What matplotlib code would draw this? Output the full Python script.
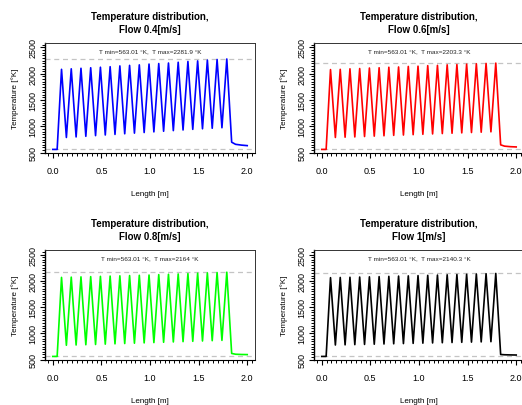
"""Temperature along the exchanger length for four flow rates, 2x2 panel."""

import matplotlib

matplotlib.use("Agg")
import matplotlib.pyplot as plt
from matplotlib.ticker import MultipleLocator

plt.rcParams["font.family"] = ["Liberation Sans", "DejaVu Sans"]

# positions along the length [m]: inlet plateau, alternating peaks/troughs, outlet tail
x_inlet = [0.0, 0.045]
x_peaks = [0.09, 0.19, 0.29, 0.39, 0.49, 0.59, 0.69, 0.79, 0.89,
           0.99, 1.09, 1.19, 1.29, 1.39, 1.49, 1.59, 1.69, 1.79]
x_mins = [0.14, 0.24, 0.34, 0.44, 0.54, 0.64, 0.74, 0.84, 0.94,
          1.04, 1.14, 1.24, 1.34, 1.44, 1.54, 1.64, 1.74]
x_tail = [1.84, 1.88, 1.94, 2.0]

flows = ["0.4", "0.6", "0.8", "1"]
colors = ["#0000ff", "#ff0000", "#00ff00", "#000000"]
t_min = [563.01, 563.01, 563.01, 563.01]
t_max = [2281.9, 2203.3, 2164, 2140.3]

peaks = [
    [2085, 2095, 2105, 2115, 2125, 2135, 2150, 2160, 2170,
     2185, 2195, 2205, 2220, 2235, 2245, 2260, 2272, 2281.9],
    [2080, 2085, 2095, 2100, 2110, 2115, 2125, 2130, 2140,
     2145, 2155, 2160, 2170, 2175, 2183, 2190, 2197, 2203.3],
    [2065, 2070, 2075, 2080, 2085, 2090, 2095, 2100, 2105,
     2110, 2118, 2124, 2130, 2137, 2144, 2150, 2157, 2164],
    [2060, 2064, 2068, 2072, 2076, 2080, 2085, 2090, 2094,
     2099, 2104, 2109, 2114, 2119, 2124, 2129, 2135, 2140.3],
]
troughs = [
    [790, 800, 812, 825, 837, 848, 860, 872, 884,
     896, 908, 920, 932, 944, 955, 965, 975],
    [790, 795, 800, 808, 815, 822, 830, 836, 843,
     850, 857, 864, 870, 877, 884, 890, 897],
    [775, 780, 785, 790, 796, 802, 808, 814, 820,
     826, 832, 838, 844, 850, 856, 862, 868],
    [780, 783, 787, 791, 795, 799, 803, 807, 811,
     815, 819, 823, 827, 831, 835, 839, 843],
]
tails = [
    [700, 660, 645, 635],
    [650, 625, 615, 610],
    [620, 605, 600, 598],
    [600, 595, 592, 590],
]


def profile(i):
    xs = list(x_inlet)
    ys = [t_min[i], t_min[i]]
    for k, xp in enumerate(x_peaks):
        xs.append(xp)
        ys.append(peaks[i][k])
        if k < len(x_mins):
            xs.append(x_mins[k])
            ys.append(troughs[i][k])
    xs += x_tail
    ys += tails[i]
    return xs, ys


fig = plt.figure(figsize=(5.22, 4.06), dpi=100)
boxes = [
    [0.0862, 0.6207, 0.4023, 0.2709],
    [0.6015, 0.6207, 0.4023, 0.2709],
    [0.0862, 0.1108, 0.4023, 0.2709],
    [0.6015, 0.1108, 0.4023, 0.2709],
]

for i, box in enumerate(boxes):
    ax = fig.add_axes(box)
    xs, ys = profile(i)
    ax.axhline(t_min[i], color="#c4c4c4", lw=0.9, ls=(0, (4, 3)))
    ax.axhline(t_max[i], color="#c4c4c4", lw=0.9, ls=(0, (4, 3)))
    ax.plot(xs, ys, color=colors[i], lw=1.2, solid_joinstyle="round")

    ax.set_xlim(-0.08, 2.08)
    ax.set_ylim(495, 2585)
    ax.xaxis.set_major_locator(MultipleLocator(0.5))
    ax.xaxis.set_minor_locator(MultipleLocator(0.05))
    ax.yaxis.set_major_locator(MultipleLocator(500))
    ax.yaxis.set_minor_locator(MultipleLocator(50))
    ax.xaxis.set_major_formatter(plt.FormatStrFormatter("%.1f"))
    ax.tick_params(which="major", length=3.5, width=0.8, labelsize=6.5, pad=6)
    ax.tick_params(which="minor", length=2, width=0.7)
    ax.tick_params(axis="y", which="major", pad=2)
    for lbl in ax.get_yticklabels():
        lbl.set_rotation(90)
        lbl.set_va("center")
    for side in ("top", "right"):
        ax.spines[side].set_linewidth(0.7)
        ax.spines[side].set_color("#333333")
    ax.spines["left"].set_linewidth(1.0)
    ax.spines["bottom"].set_linewidth(0.8)

    ax.set_xlabel("Length [m]", fontsize=5.8, labelpad=11)
    ax.set_ylabel("Temperature [°K]", fontsize=5.8, labelpad=7)
    ax.set_title(f"Temperature distribution,\nFlow {flows[i]}[m/s]",
                 fontsize=7, fontweight="bold", pad=8, linespacing=1.4)
    ax.text(1.0, 0.925,
            f"T min={t_min[i]} °K,  T max={t_max[i]} °K",
            transform=ax.get_xaxis_transform(), ha="center", va="center",
            fontsize=4.6, color="#222222")

fig.savefig("out.png", dpi=100)
